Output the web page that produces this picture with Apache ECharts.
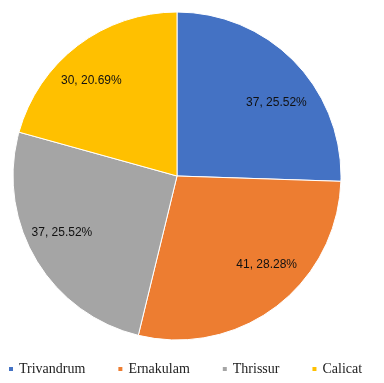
<!DOCTYPE html>
<html>
<head>
<meta charset="utf-8">
<script src="https://cdn.jsdelivr.net/npm/echarts@6/dist/echarts.min.js"></script>
<style>
html,body{margin:0;padding:0;background:#fff;}
#chart{width:384px;height:383px;}
</style>
</head>
<body>
<div id="chart"></div>
<script>
const categories = ['Trivandrum', 'Ernakulam', 'Thrissur', 'Calicat'];
const values = [37, 41, 37, 30];
const percents = ['25.52%', '28.28%', '25.52%', '20.69%'];
const colors = ['#4472C4', '#ED7D31', '#A5A5A5', '#FFC000'];

const chart = echarts.init(document.getElementById('chart'));
const pieData = categories.map((c, i) => ({ name: c, value: values[i], itemStyle: { color: colors[i] } }));

// small nudges of the inside labels, to follow the reference's label placement
const labelNudge = [[6, 17], [11, -15], [-3, -9], [-7, 8]];

chart.setOption({
  animation: false,
  legend: {
    data: categories,
    left: 2,
    top: 357,
    icon: 'rect',
    itemWidth: 6,
    itemHeight: 6,
    itemGap: 31,
    textStyle: { fontFamily: '"Liberation Serif", "DejaVu Serif", serif', fontSize: 14, color: '#222' }
  },
  series: [
    {
      type: 'pie',
      center: [177, 176],
      radius: [0, 164],
      startAngle: 90,
      clockwise: true,
      data: pieData,
      label: { show: false },
      labelLine: { show: false },
      itemStyle: { borderColor: '#fff', borderWidth: 1 },
      silent: true
    },
    {
      type: 'pie',
      center: [177, 176],
      radius: [90, 164],
      startAngle: 90,
      clockwise: true,
      silent: true,
      legendHoverLink: false,
      data: categories.map((c, i) => ({ name: c, value: values[i], itemStyle: { color: 'rgba(0,0,0,0)' } })),
      itemStyle: { borderWidth: 0 },
      labelLine: { show: false },
      label: {
        show: true,
        position: 'inside',
        fontFamily: '"Liberation Sans", Arial, sans-serif',
        fontSize: 12,
        color: '#111',
        formatter: p => p.value + ', ' + percents[p.dataIndex]
      },
      labelLayout: p => ({ dx: labelNudge[p.dataIndex][0], dy: labelNudge[p.dataIndex][1] })
    }
  ]
});
</script>
</body>
</html>
